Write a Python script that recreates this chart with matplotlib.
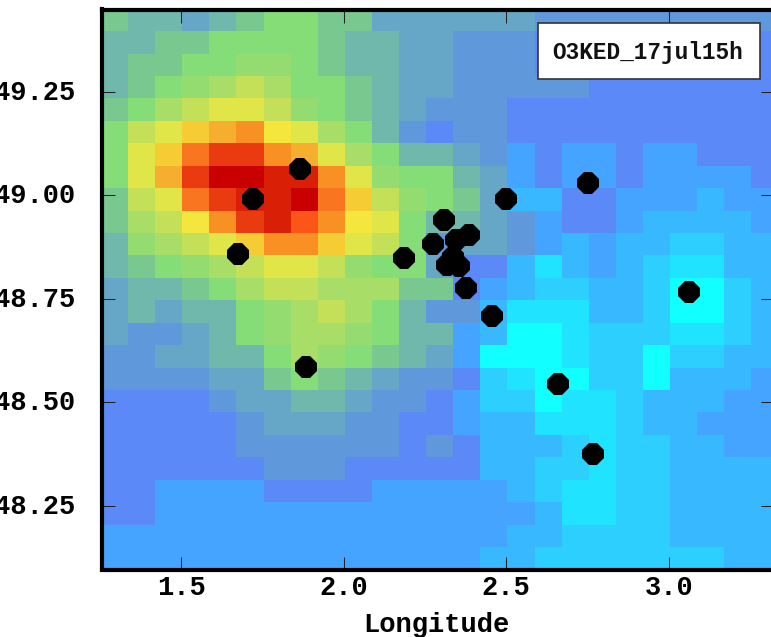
import numpy as np
import matplotlib
matplotlib.use('Agg')
import matplotlib.pyplot as plt
from matplotlib.colors import ListedColormap, BoundaryNorm
from matplotlib.patches import Rectangle
from matplotlib.transforms import ScaledTranslation

W = 771.
H = 637.

# concentration class per grid cell, north to south
levels = [
    [9, 8, 8, 7, 8, 9, 10, 10, 9, 9, 7, 7, 7, 7, 7, 7, 6, 6, 6, 6, 6, 6, 6, 6, 6],
    [8, 8, 9, 9, 10, 10, 10, 10, 9, 8, 8, 7, 7, 6, 6, 6, 5, 5, 5, 5, 5, 5, 5, 5, 5],
    [8, 9, 9, 10, 10, 11, 11, 10, 9, 8, 8, 7, 7, 6, 6, 6, 5, 5, 5, 5, 5, 5, 5, 5, 5],
    [8, 9, 10, 11, 12, 13, 12, 10, 10, 9, 8, 7, 7, 6, 6, 6, 6, 6, 5, 5, 5, 5, 5, 5, 5],
    [9, 10, 12, 13, 14, 14, 13, 11, 10, 9, 8, 7, 6, 6, 6, 5, 5, 5, 5, 5, 5, 5, 5, 5, 5],
    [10, 13, 14, 16, 17, 18, 15, 14, 12, 10, 8, 6, 5, 6, 6, 5, 5, 5, 5, 5, 5, 5, 5, 5, 5],
    [10, 14, 16, 19, 21, 21, 18, 17, 14, 12, 10, 8, 8, 7, 6, 4, 5, 4, 4, 5, 4, 4, 5, 5, 5],
    [10, 14, 17, 21, 23, 23, 22, 22, 18, 14, 11, 10, 10, 8, 7, 4, 5, 4, 4, 5, 4, 4, 4, 4, 5],
    [9, 13, 14, 19, 21, 22, 22, 23, 19, 16, 13, 11, 10, 9, 7, 3, 3, 5, 5, 4, 4, 4, 3, 4, 4],
    [9, 12, 13, 15, 18, 21, 22, 20, 18, 15, 14, 10, 8, 8, 7, 6, 4, 5, 5, 4, 3, 3, 3, 3, 4],
    [8, 11, 12, 13, 14, 16, 18, 18, 16, 14, 13, 10, 6, 7, 7, 6, 4, 3, 4, 3, 3, 2, 2, 3, 3],
    [8, 9, 10, 11, 12, 13, 14, 14, 13, 11, 10, 10, 7, 5, 5, 3, 1, 3, 4, 3, 2, 1, 1, 3, 3],
    [7, 8, 8, 9, 10, 12, 13, 13, 12, 12, 12, 9, 9, 5, 4, 3, 2, 2, 3, 3, 2, 0, 0, 2, 3],
    [7, 8, 7, 8, 8, 10, 11, 12, 13, 12, 10, 8, 6, 6, 3, 1, 1, 1, 3, 3, 2, 0, 0, 2, 3],
    [7, 6, 6, 7, 8, 10, 11, 12, 12, 11, 10, 8, 8, 4, 3, 0, 0, 1, 2, 2, 2, 1, 1, 2, 3],
    [6, 6, 7, 7, 8, 8, 10, 12, 11, 10, 9, 8, 7, 4, 0, 0, 0, 1, 2, 2, 0, 2, 2, 3, 3],
    [6, 6, 6, 6, 7, 7, 9, 10, 9, 8, 7, 6, 6, 5, 2, 1, 0, 0, 2, 2, 0, 3, 3, 3, 4],
    [5, 5, 5, 5, 6, 7, 7, 8, 8, 7, 6, 6, 5, 4, 2, 2, 0, 1, 1, 2, 3, 3, 3, 4, 4],
    [5, 5, 5, 5, 5, 6, 7, 7, 7, 6, 6, 5, 5, 4, 3, 3, 1, 1, 1, 2, 3, 3, 4, 4, 4],
    [5, 5, 5, 5, 5, 6, 6, 6, 6, 6, 6, 5, 6, 5, 3, 3, 3, 2, 1, 2, 2, 3, 3, 4, 4],
    [5, 5, 5, 5, 5, 5, 6, 6, 6, 5, 5, 5, 5, 5, 3, 3, 2, 2, 1, 2, 2, 3, 3, 3, 3],
    [5, 5, 4, 4, 4, 4, 5, 5, 5, 5, 4, 4, 4, 4, 4, 3, 2, 1, 1, 2, 2, 3, 3, 3, 3],
    [5, 5, 4, 4, 4, 4, 4, 4, 4, 4, 4, 4, 4, 4, 4, 4, 3, 1, 1, 2, 2, 3, 3, 3, 3],
    [4, 4, 4, 4, 4, 4, 4, 4, 4, 4, 4, 4, 4, 4, 4, 3, 3, 2, 2, 2, 2, 3, 3, 3, 3],
    [4, 4, 4, 4, 4, 4, 4, 4, 4, 4, 4, 4, 4, 4, 3, 3, 2, 2, 2, 2, 2, 2, 2, 3, 3],
]

palette = ['#12ffff', '#20e4ff', '#2dcfff', '#38b8ff', '#45a4ff', '#5b8af8',
           '#6098dc', '#66a6c6', '#70b8ac', '#78c890', '#85dd78', '#95dc70',
           '#a8de68', '#c4e058', '#e0e648', '#f4e63c', '#f5cc33', '#f5ae2d',
           '#f89024', '#fa7520', '#fb5518', '#e93a10', '#d91f06', '#c80000']

# stations
station_lon = [1.867, 1.721, 1.675, 2.187, 2.310, 2.275, 2.346, 2.387, 2.335, 2.319,
               2.355, 2.375, 2.455, 2.500, 2.753, 3.063, 2.660, 2.768, 1.883]
station_lat = [49.063, 48.991, 48.858, 48.847, 48.940, 48.882, 48.892, 48.904, 48.851, 48.830,
               48.828, 48.776, 48.708, 48.990, 49.029, 48.767, 48.543, 48.376, 48.584]

xticks = [1.5, 2.0, 2.5, 3.0]
yticks = [48.25, 48.50, 48.75, 49.00, 49.25]
title = 'O3KED_17jul15h'

plt.rcParams['font.family'] = ['Liberation Mono', 'DejaVu Sans Mono']
plt.rcParams['font.weight'] = 'bold'

fig = plt.figure(figsize=(W / 100, H / 100), dpi=100)
ax = fig.add_axes([102 / W, 1 - 569.5 / H, (773.5 - 102) / W, (569.5 - 9.5) / H])

lon_edges = np.linspace(1.2537, 1.2537 + 25 / 12., 26)
lat_edges = np.linspace(49.45, 48.096, 26)
cmap = ListedColormap(palette)
norm = BoundaryNorm(np.arange(len(palette) + 1) - 0.5, len(palette))
ax.pcolormesh(lon_edges, lat_edges, np.array(levels), cmap=cmap, norm=norm)

ax.plot(station_lon, station_lat, linestyle='none', marker='8', markersize=16.5,
        color='k', markeredgewidth=0, zorder=3)

ax.set_xlim(1.257, 3.322)
ax.set_ylim(48.096, 49.448)

ax.set_xticks(xticks)
ax.set_yticks(yticks)
ax.set_xticklabels(['%.1f' % v for v in xticks])
ax.set_yticklabels(['%.2f' % v for v in yticks])
ax.tick_params(axis='both', direction='in', top=True, right=True, length=9.7, width=0.75,
               color='#222222', labelsize=19.5)
ax.tick_params(axis='x', pad=4)
ax.tick_params(axis='y', pad=19)
for s in ax.spines.values():
    s.set_linewidth(3)

# y labels sit a little above the tick in the original
up = ScaledTranslation(0, 2 / 100., fig.dpi_scale_trans)
for lab in ax.get_yticklabels():
    lab.set_transform(lab.get_transform() + up)

ax.set_xlabel('Longitude', fontsize=19.5, fontweight='bold', labelpad=8)
ax.xaxis.label.set_x((436 - 102) / (773.5 - 102))

# station set label, top right
box = Rectangle((537.7 / W, 1 - 79 / H), (760 - 537.7) / W, (79 - 22.7) / H,
                transform=fig.transFigure, facecolor='w', edgecolor='#333333',
                linewidth=1.2, zorder=4)
ax.add_patch(box)
ax.text(647.5 / W, 1 - 52 / H, title, transform=fig.transFigure, ha='center', va='center',
        fontsize=16.4, fontweight='bold', color='#111111', zorder=5)

fig.savefig('out.png', dpi=100)
